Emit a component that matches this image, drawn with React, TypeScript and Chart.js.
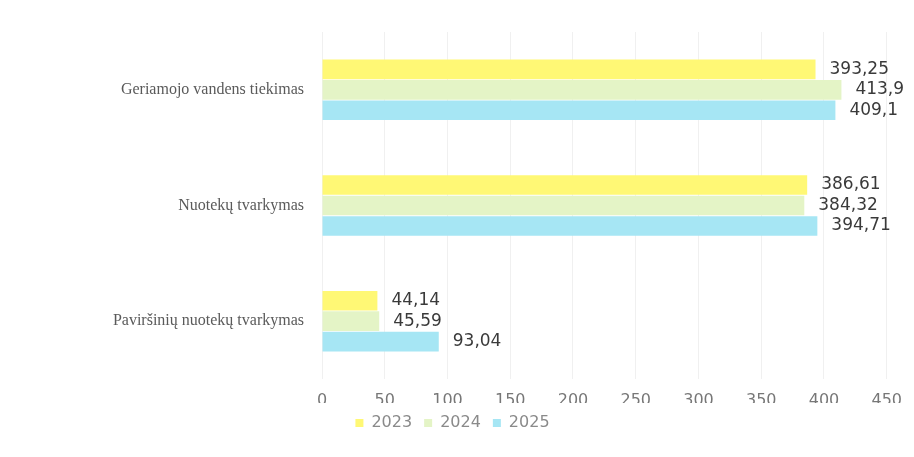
import React, { useEffect, useRef } from "react";
import { Chart, registerables } from "chart.js";

Chart.register(...registerables);

const categories = [
  "Geriamojo vandens tiekimas",
  "Nuotekų tvarkymas",
  "Paviršinių nuotekų tvarkymas",
];
const values2023 = [393.25, 386.61, 44.14];
const values2024 = [413.9, 384.32, 45.59];
const values2025 = [409.1, 394.71, 93.04];
const seriesLabels = ["2023", "2024", "2025"];
const xTicks = [0, 50, 100, 150, 200, 250, 300, 350, 400, 450];

const fmt = (v: number) => String(v).replace(".", ",");

const valueLabelPlugin = {
  id: "valueLabels",
  afterDatasetsDraw(chart: any) {
    const ctx = chart.ctx;
    ctx.save();
    ctx.font = "17px 'DejaVu Sans', sans-serif";
    ctx.fillStyle = "#3a3a3a";
    ctx.textAlign = "left";
    ctx.textBaseline = "middle";
    chart.data.datasets.forEach((ds: any, di: number) => {
      const meta = chart.getDatasetMeta(di);
      meta.data.forEach((bar: any, i: number) => {
        ctx.fillText(fmt(ds.data[i]), bar.x + 14, bar.y);
      });
    });
    ctx.restore();
  },
};

export default function App() {
  const ref = useRef<HTMLCanvasElement | null>(null);
  useEffect(() => {
    if (!ref.current) return;
    const chart = new Chart(ref.current, {
      type: "bar",
      data: {
        labels: categories,
        datasets: [
          { label: seriesLabels[0], data: values2023, backgroundColor: "#FFF875" },
          { label: seriesLabels[1], data: values2024, backgroundColor: "#E4F4C6" },
          { label: seriesLabels[2], data: values2025, backgroundColor: "#A6E6F4" },
        ],
      },
      options: {
        indexAxis: "y",
        animation: false,
        responsive: true,
        maintainAspectRatio: false,
        layout: { padding: { top: 32, right: 9, bottom: 16, left: 0 } },
        datasets: { bar: { categoryPercentage: 0.53, barPercentage: 0.96 } },
        scales: {
          x: {
            min: 0,
            max: 450,
            afterBuildTicks: (scale: any) => {
              scale.ticks = xTicks.map((v) => ({ value: v }));
            },
            afterFit: (scale: any) => {
              scale.height = 24;
            },
            ticks: {
              color: "#777777",
              padding: 12,
              font: { size: 16, family: "'DejaVu Sans', sans-serif" },
            },
            grid: { color: "#f0f0f0", drawTicks: false },
            border: { display: false },
          },
          y: {
            afterFit: (scale: any) => {
              scale.width = 322;
            },
            ticks: {
              color: "#5a5a5a",
              padding: 10,
              font: { size: 16, family: "'Liberation Serif', serif" },
            },
            grid: { display: false },
            border: { display: false },
          },
        },
        plugins: {
          legend: {
            position: "bottom",
            labels: {
              boxWidth: 8,
              boxHeight: 8,
              color: "#8a8a8a",
              padding: 12,
              font: { size: 16, family: "'DejaVu Sans', sans-serif" },
            },
          },
          tooltip: { enabled: false },
        },
      },
      plugins: [valueLabelPlugin],
    } as any);
    return () => chart.destroy();
  }, []);
  return (
    <div style={{ position: "fixed", left: 0, top: 0, width: 914, height: 457, background: "#fff" }}>
      <canvas ref={ref} />
    </div>
  );
}
